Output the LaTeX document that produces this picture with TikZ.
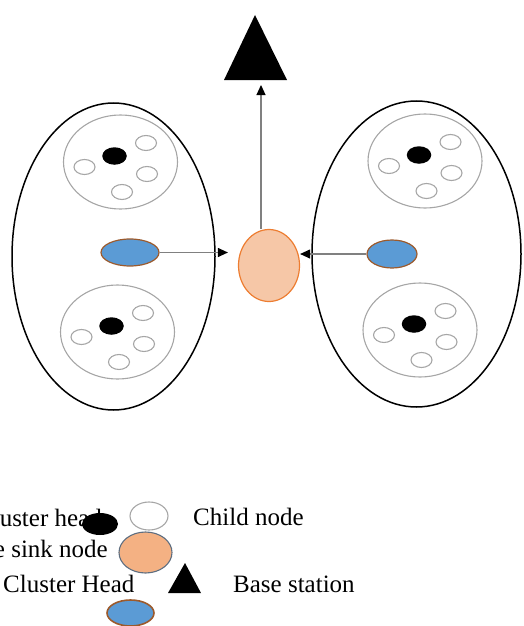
\documentclass[tikz,border=0pt]{standalone}
\usepackage{fontspec}
\setmainfont{Liberation Serif}
\usetikzlibrary{shapes.geometric,arrows.meta}

\definecolor{headblue}{HTML}{5B9BD5}
\definecolor{headrim}{HTML}{9C5A2C}
\definecolor{sinkfill}{HTML}{F6C7A7}
\definecolor{sinkrim}{HTML}{ED7D31}
\definecolor{keysink}{HTML}{F4B183}
\definecolor{keyrim}{HTML}{5E6E80}
\definecolor{ringgray}{HTML}{A6A6A6}

\tikzset{
  region/.style={ellipse, draw=black, line width=1.5pt, inner sep=0pt},
  ring/.style={ellipse, draw=ringgray, line width=1.1pt, inner sep=0pt,
    minimum width=114pt, minimum height=94pt},
  child/.style={ellipse, draw=ringgray, line width=1.1pt, fill=white, inner sep=0pt,
    minimum width=21pt, minimum height=15pt},
  chead/.style={ellipse, fill=black, inner sep=0pt,
    minimum width=24.5pt, minimum height=17.5pt},
  superhead/.style={ellipse, fill=headblue, draw=headrim, line width=1.2pt, inner sep=0pt},
  sink/.style={ellipse, fill=sinkfill, draw=sinkrim, line width=1.2pt, inner sep=0pt,
    minimum width=61pt, minimum height=72pt},
  conn/.style={draw=black!50, line width=1.1pt,
    -{Triangle[length=10pt, width=9pt, color=black]}},
  lbl/.style={inner sep=0pt, font=\fontsize{25}{28}\selectfont},
}

% one cluster: ring, its head and four members
\newcommand\clusterdisc[2]{%
  \begin{scope}[shift={(#2)}]
    \node[ring] (#1) at (0,0) {};
    \node[chead] (#1-h) at (-6,-6) {};
    \node[child] (#1-a) at (-36,5) {};
    \node[child] (#1-b) at (25.5,-19) {};
    \node[child] (#1-c) at (26.5,12) {};
    \node[child] (#1-d) at (1.5,30) {};
  \end{scope}}

\begin{document}
\begin{tikzpicture}[x=1pt, y=-1pt]
  \useasboundingbox (0,0) rectangle (523,626);

  % two regions
  \node[region, minimum width=203pt, minimum height=307pt] (L) at (113.5,256.5) {};
  \node[region, minimum width=209pt, minimum height=306pt] (R) at (416.5,254) {};

  \clusterdisc{LT}{120.5,162}
  \clusterdisc{LB}{117.5,332}
  \clusterdisc{RT}{425,161}
  \clusterdisc{RB}{420,330}

  % region heads
  \node[superhead, minimum width=58pt, minimum height=27pt] (lh) at (130,252.5) {};
  \node[superhead, minimum width=50pt, minimum height=28pt] (rh) at (392,254) {};

  % sink node
  \node[sink] (sink) at (269,265.5) {};

  % base station
  \fill (255,15) -- (287,80) -- (224,80) -- cycle;
  \coordinate (bs) at (261,85);

  % links
  \draw[conn, shorten >=10pt] (lh.east) -- (sink.west |- lh.east);
  \draw[conn] (rh.west) -- (sink.east |- rh.west);
  \draw[conn] (bs |- sink.north) -- (bs);

  % key
  \node[lbl, anchor=base east] (t1) at (102,526) {Cluster head};
  \node[chead, minimum width=36pt, minimum height=22pt] (k1) at (100,524) {};
  \node[child, minimum width=38pt, minimum height=28pt] (k2) at (149,516) {};
  \node[lbl, anchor=base west] (t2) at (193,525) {Child node};
  \node[lbl, anchor=base east] (t3) at (108,557) {e sink node};
  \node[ellipse, fill=keysink, draw=keyrim, line width=1.1pt, inner sep=0pt,
        minimum width=53pt, minimum height=41pt] (k3) at (145.5,552.5) {};
  \fill (185,563) -- (201,593) -- (168,593) -- cycle;
  \node[lbl, anchor=base west] (t4) at (3,592) {Cluster Head};
  \node[lbl, anchor=base west] (t5) at (233,592) {Base station};
  \node[superhead, line width=1.6pt, minimum width=47pt, minimum height=26pt] (k4) at (130.5,613) {};
\end{tikzpicture}
\end{document}
